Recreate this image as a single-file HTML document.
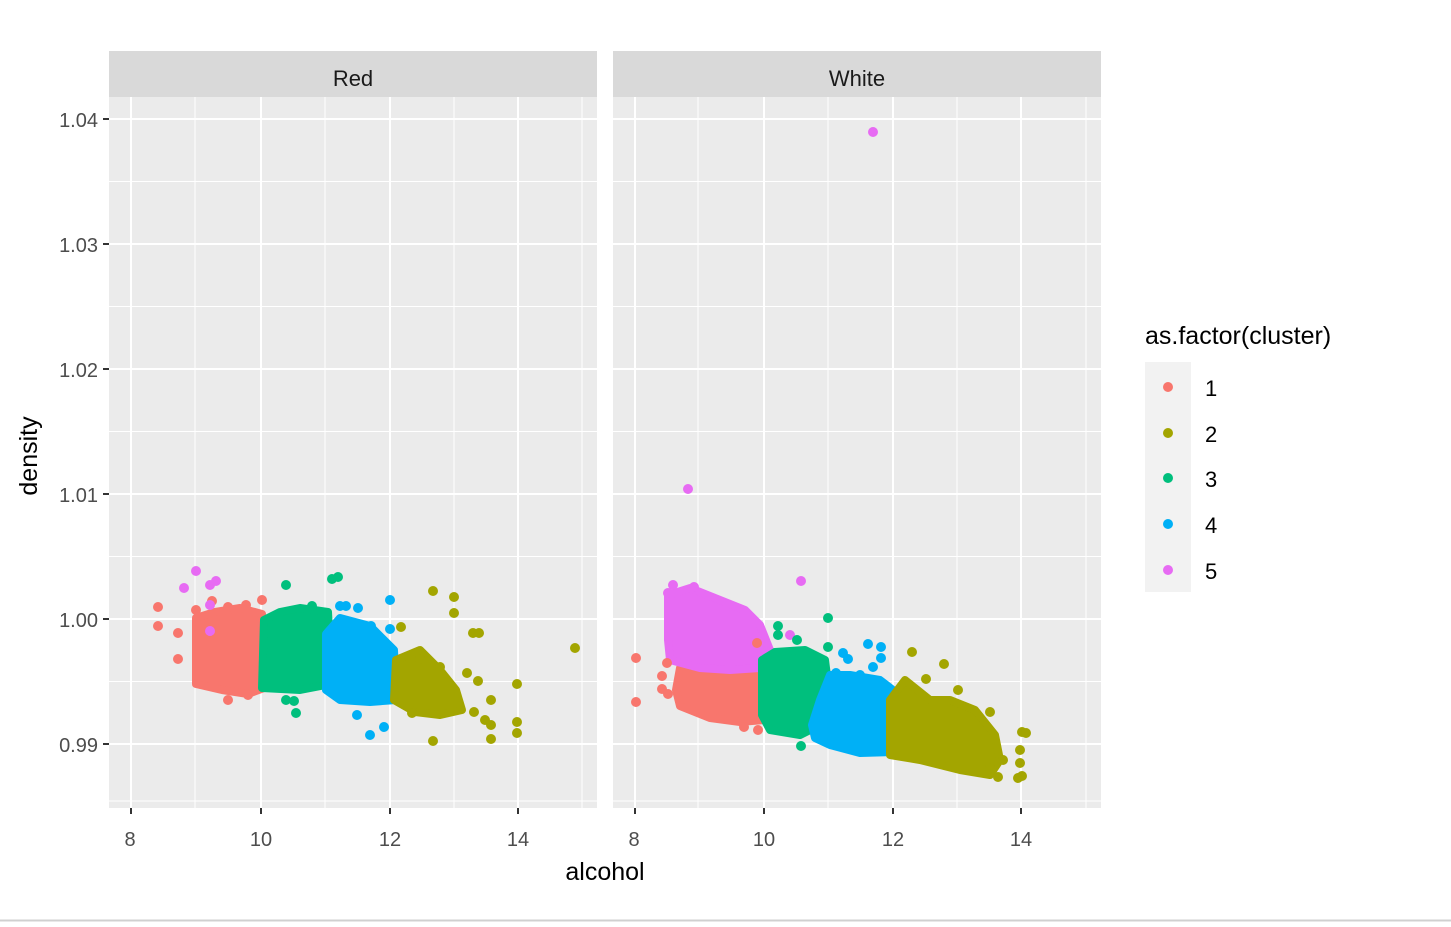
<!DOCTYPE html>
<html><head><meta charset="utf-8"><style>
body{margin:0;background:#fff;}
svg{display:block;font-family:"Liberation Sans",Arial,sans-serif;}
</style></head><body>
<svg width="1451" height="927" viewBox="0 0 1451 927">
<rect width="1451" height="927" fill="#fff"/>
<g>
<rect x="109" y="97" width="488" height="711" fill="#ebebeb"/>
<rect x="613" y="97" width="488" height="711" fill="#ebebeb"/>
<rect x="109" y="51" width="488" height="46" fill="#d9d9d9"/>
<rect x="613" y="51" width="488" height="46" fill="#d9d9d9"/>
<text x="353" y="86" font-size="22" text-anchor="middle" fill="#1a1a1a">Red</text>
<text x="857" y="86" font-size="22" text-anchor="middle" fill="#1a1a1a">White</text>
</g>
<g stroke="#fff" stroke-width="1">
<line x1="109" x2="597" y1="181.5" y2="181.5"/><line x1="109" x2="597" y1="306.5" y2="306.5"/><line x1="109" x2="597" y1="431.5" y2="431.5"/><line x1="109" x2="597" y1="556.5" y2="556.5"/><line x1="109" x2="597" y1="681.5" y2="681.5"/><line x1="109" x2="597" y1="801" y2="801"/>
<line x1="613" x2="1101" y1="181.5" y2="181.5"/><line x1="613" x2="1101" y1="306.5" y2="306.5"/><line x1="613" x2="1101" y1="431.5" y2="431.5"/><line x1="613" x2="1101" y1="556.5" y2="556.5"/><line x1="613" x2="1101" y1="681.5" y2="681.5"/><line x1="613" x2="1101" y1="801" y2="801"/>
<line x1="195" x2="195" y1="97" y2="808"/><line x1="325" x2="325" y1="97" y2="808"/><line x1="454" x2="454" y1="97" y2="808"/><line x1="582" x2="582" y1="97" y2="808"/>
<line x1="698" x2="698" y1="97" y2="808"/><line x1="828" x2="828" y1="97" y2="808"/><line x1="957" x2="957" y1="97" y2="808"/><line x1="1086" x2="1086" y1="97" y2="808"/>
</g>
<g stroke="#fff" stroke-width="2">
<line x1="109" x2="597" y1="119" y2="119"/><line x1="109" x2="597" y1="244" y2="244"/><line x1="109" x2="597" y1="369" y2="369"/><line x1="109" x2="597" y1="494" y2="494"/><line x1="109" x2="597" y1="619" y2="619"/><line x1="109" x2="597" y1="744" y2="744"/>
<line x1="613" x2="1101" y1="119" y2="119"/><line x1="613" x2="1101" y1="244" y2="244"/><line x1="613" x2="1101" y1="369" y2="369"/><line x1="613" x2="1101" y1="494" y2="494"/><line x1="613" x2="1101" y1="619" y2="619"/><line x1="613" x2="1101" y1="744" y2="744"/>
<line x1="131" x2="131" y1="97" y2="808"/><line x1="261" x2="261" y1="97" y2="808"/><line x1="390" x2="390" y1="97" y2="808"/><line x1="518" x2="518" y1="97" y2="808"/>
<line x1="635" x2="635" y1="97" y2="808"/><line x1="764" x2="764" y1="97" y2="808"/><line x1="893" x2="893" y1="97" y2="808"/><line x1="1021" x2="1021" y1="97" y2="808"/>
</g>
<g stroke="#333" stroke-width="2">
<line x1="103" x2="109" y1="119" y2="119"/><line x1="103" x2="109" y1="244" y2="244"/><line x1="103" x2="109" y1="369" y2="369"/><line x1="103" x2="109" y1="494" y2="494"/><line x1="103" x2="109" y1="619" y2="619"/><line x1="103" x2="109" y1="744" y2="744"/>
<line x1="131" x2="131" y1="808" y2="814"/><line x1="261" x2="261" y1="808" y2="814"/><line x1="390" x2="390" y1="808" y2="814"/><line x1="518" x2="518" y1="808" y2="814"/>
<line x1="635" x2="635" y1="808" y2="814"/><line x1="764" x2="764" y1="808" y2="814"/><line x1="893" x2="893" y1="808" y2="814"/><line x1="1021" x2="1021" y1="808" y2="814"/>
</g>
<g font-size="20" fill="#4d4d4d" text-anchor="end">
<text x="98" y="127">1.04</text><text x="98" y="252">1.03</text><text x="98" y="377">1.02</text><text x="98" y="502">1.01</text><text x="98" y="627">1.00</text><text x="98" y="752">0.99</text>
</g>
<g font-size="20" fill="#4d4d4d" text-anchor="middle">
<text x="130" y="846">8</text><text x="261" y="846">10</text><text x="390" y="846">12</text><text x="518" y="846">14</text>
<text x="634" y="846">8</text><text x="764" y="846">10</text><text x="893" y="846">12</text><text x="1021" y="846">14</text>
</g>
<text x="605" y="880" font-size="25" text-anchor="middle" fill="#000">alcohol</text>
<text transform="translate(37,456) rotate(-90)" font-size="25" text-anchor="middle" fill="#000">density</text>

<g stroke-linejoin="round" stroke-width="8">
<polygon fill="#F8766D" stroke="#F8766D" points="196,618 215,612 240,608 262,614 264,688 248,694 222,690 196,684"/>
<polygon fill="#00BF7D" stroke="#00BF7D" points="264,620 280,612 300,608 328,612 330,650 326,685 300,690 262,688"/>
<polygon fill="#00B0F6" stroke="#00B0F6" points="326,634 340,618 370,626 394,650 396,700 370,702 340,700 326,690"/>
<polygon fill="#A3A500" stroke="#A3A500" points="396,660 420,650 440,670 456,690 462,710 440,715 415,712 394,700"/>
</g>
<g>
<g fill="#F8766D"><circle cx="158" cy="607" r="5"/><circle cx="158" cy="626" r="5"/><circle cx="178" cy="633" r="5"/><circle cx="178" cy="659" r="5"/><circle cx="196" cy="610" r="5"/><circle cx="212" cy="601" r="5"/><circle cx="228" cy="607" r="5"/><circle cx="246" cy="605" r="5"/><circle cx="228" cy="700" r="5"/><circle cx="248" cy="695" r="5"/><circle cx="262" cy="600" r="5"/></g>
<g fill="#E76BF3"><circle cx="196" cy="571" r="5"/><circle cx="184" cy="588" r="5"/><circle cx="210" cy="585" r="5"/><circle cx="216" cy="581" r="5"/><circle cx="210" cy="631" r="5"/><circle cx="210" cy="605" r="5"/></g>
<g fill="#00BF7D"><circle cx="286" cy="585" r="5"/><circle cx="332" cy="579" r="5"/><circle cx="338" cy="577" r="5"/><circle cx="312" cy="606" r="5"/><circle cx="286" cy="700" r="5"/><circle cx="296" cy="713" r="5"/><circle cx="294" cy="701" r="5"/></g>
<g fill="#00B0F6"><circle cx="340" cy="606" r="5"/><circle cx="346" cy="606" r="5"/><circle cx="358" cy="608" r="5"/><circle cx="390" cy="600" r="5"/><circle cx="390" cy="629" r="5"/><circle cx="357" cy="715" r="5"/><circle cx="370" cy="735" r="5"/><circle cx="384" cy="727" r="5"/><circle cx="371" cy="626" r="5"/><circle cx="375" cy="640" r="5"/></g>
<g fill="#A3A500"><circle cx="401" cy="627" r="5"/><circle cx="433" cy="591" r="5"/><circle cx="454" cy="597" r="5"/><circle cx="454" cy="613" r="5"/><circle cx="473" cy="633" r="5"/><circle cx="479" cy="633" r="5"/><circle cx="420" cy="659" r="5"/><circle cx="440" cy="667" r="5"/><circle cx="467" cy="673" r="5"/><circle cx="478" cy="681" r="5"/><circle cx="491" cy="700" r="5"/><circle cx="517" cy="684" r="5"/><circle cx="485" cy="720" r="5"/><circle cx="491" cy="725" r="5"/><circle cx="517" cy="722" r="5"/><circle cx="517" cy="733" r="5"/><circle cx="491" cy="739" r="5"/><circle cx="433" cy="741" r="5"/><circle cx="412" cy="713" r="5"/><circle cx="575" cy="648" r="5"/><circle cx="474" cy="712" r="5"/></g>
</g>

<g stroke-linejoin="round" stroke-width="8">
<polygon fill="#F8766D" stroke="#F8766D" points="680,668 700,662 740,660 764,666 764,720 740,722 710,718 680,706 676,690"/>
<polygon fill="#E76BF3" stroke="#E76BF3" points="668,595 690,588 715,598 745,610 760,625 770,650 760,668 730,670 700,668 670,660 668,640"/>
<polygon fill="#00BF7D" stroke="#00BF7D" points="762,660 775,652 805,650 825,660 830,700 820,725 800,735 770,730 762,715"/>
<polygon fill="#00B0F6" stroke="#00B0F6" points="820,700 830,675 850,675 880,680 893,690 892,752 860,753 830,745 815,738 812,725"/>
<polygon fill="#A3A500" stroke="#A3A500" points="890,700 905,680 930,700 950,700 975,710 995,735 1000,760 990,775 960,770 920,760 890,755"/>
</g>
<g>
<g fill="#E76BF3"><circle cx="873" cy="132" r="5"/><circle cx="688" cy="489" r="5"/><circle cx="801" cy="581" r="5"/><circle cx="673" cy="585" r="5"/><circle cx="668" cy="593" r="5"/><circle cx="694" cy="587" r="5"/><circle cx="790" cy="635" r="5"/></g>
<g fill="#F8766D"><circle cx="636" cy="658" r="5"/><circle cx="636" cy="702" r="5"/><circle cx="662" cy="676" r="5"/><circle cx="662" cy="689" r="5"/><circle cx="668" cy="694" r="5"/><circle cx="667" cy="663" r="5"/><circle cx="744" cy="727" r="5"/><circle cx="758" cy="730" r="5"/><circle cx="757" cy="643" r="5"/></g>
<g fill="#00BF7D"><circle cx="828" cy="618" r="5"/><circle cx="828" cy="647" r="5"/><circle cx="778" cy="626" r="5"/><circle cx="778" cy="635" r="5"/><circle cx="797" cy="640" r="5"/><circle cx="801" cy="746" r="5"/></g>
<g fill="#00B0F6"><circle cx="868" cy="644" r="5"/><circle cx="881" cy="647" r="5"/><circle cx="881" cy="658" r="5"/><circle cx="843" cy="653" r="5"/><circle cx="848" cy="659" r="5"/><circle cx="873" cy="667" r="5"/><circle cx="860" cy="675" r="5"/><circle cx="836" cy="673" r="5"/></g>
<g fill="#A3A500"><circle cx="912" cy="652" r="5"/><circle cx="944" cy="664" r="5"/><circle cx="926" cy="679" r="5"/><circle cx="958" cy="690" r="5"/><circle cx="990" cy="712" r="5"/><circle cx="1022" cy="732" r="5"/><circle cx="1026" cy="733" r="5"/><circle cx="1020" cy="750" r="5"/><circle cx="1020" cy="763" r="5"/><circle cx="1018" cy="778" r="5"/><circle cx="1022" cy="776" r="5"/><circle cx="998" cy="777" r="5"/><circle cx="1003" cy="760" r="5"/><circle cx="990" cy="768" r="5"/></g>
</g>

<text x="1145" y="344" font-size="25" fill="#000">as.factor(cluster)</text>
<rect x="1145" y="362" width="46" height="230" fill="#f2f2f2"/>
<circle cx="1168" cy="387" r="5" fill="#F8766D"/><circle cx="1168" cy="433" r="5" fill="#A3A500"/><circle cx="1168" cy="478" r="5" fill="#00BF7D"/><circle cx="1168" cy="524" r="5" fill="#00B0F6"/><circle cx="1168" cy="570" r="5" fill="#E76BF3"/>
<g font-size="22" fill="#000"><text x="1205" y="396">1</text><text x="1205" y="442">2</text><text x="1205" y="487">3</text><text x="1205" y="533">4</text><text x="1205" y="579">5</text></g>
<line x1="0" x2="1451" y1="920.5" y2="920.5" stroke="#d0d0d0" stroke-width="2"/>
</svg>
</body></html>
